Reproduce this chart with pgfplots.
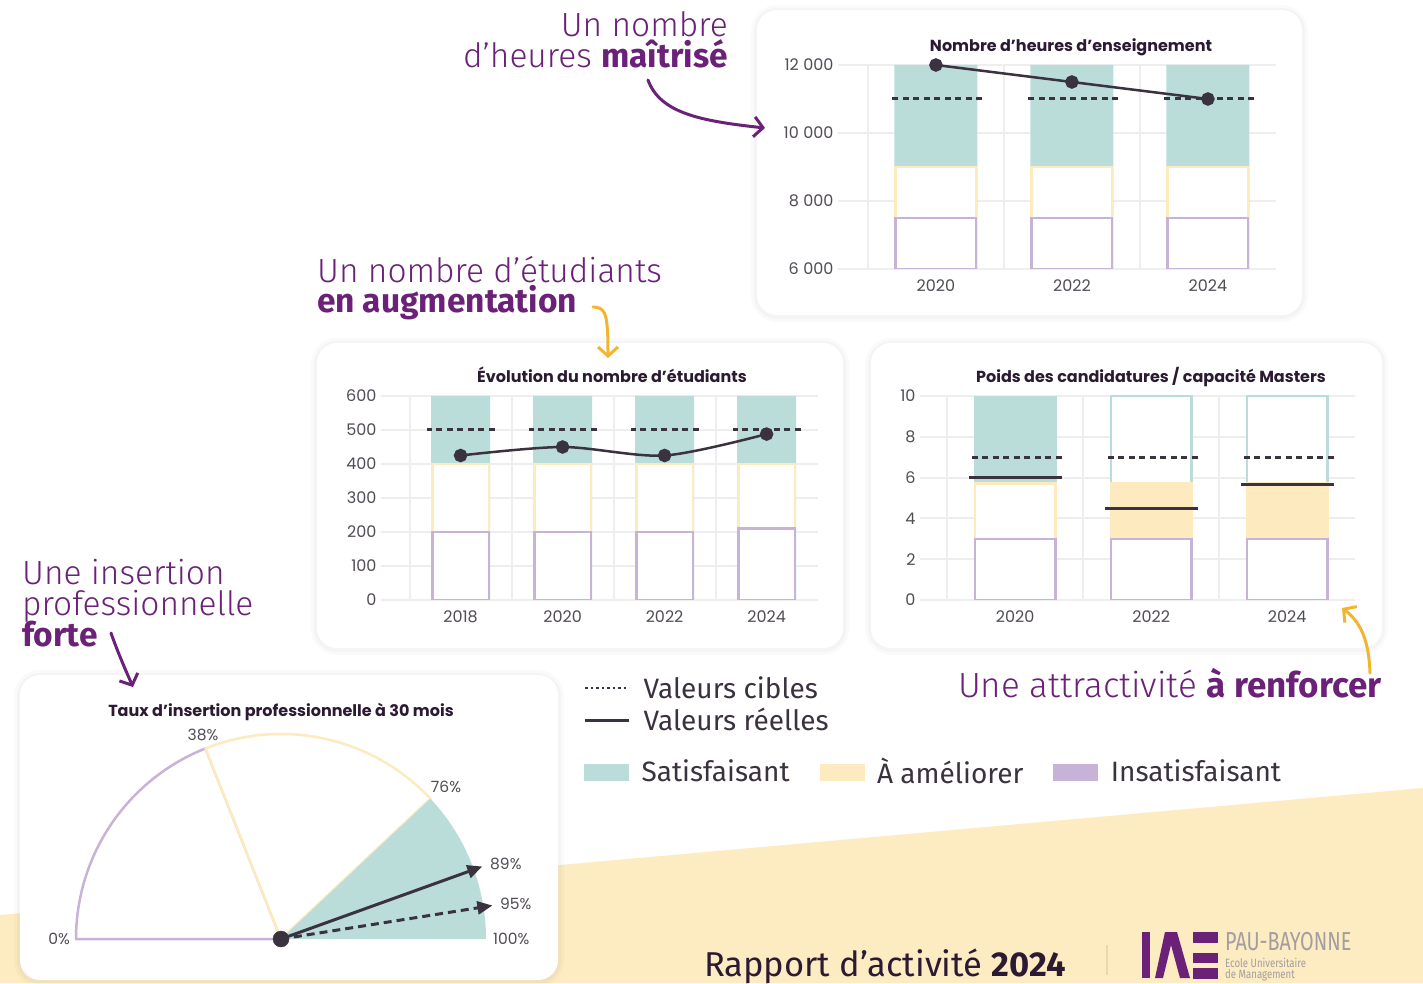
\documentclass[border=0pt]{standalone}
\usepackage{fontspec}
\usepackage{pgfplots}
\pgfplotsset{compat=1.18}
\usetikzlibrary{arrows.meta}
\newfontfamily\pop{Poppins}
\newfontfamily\fira{Fira Sans}[UprightFont={* Light}, BoldFont={* Bold}]
\newfontfamily\firar{Fira Sans}
\newcommand\fs[1]{\fontsize{#1}{#1}\selectfont}
\newcommand\ann[1]{\fira\fontsize{33.5}{#1}\selectfont\lineskiplimit=-60pt\lineskip=0pt}
\definecolor{tealC}{HTML}{BADDD9}
\definecolor{yelC}{HTML}{FDEBBF}
\definecolor{purC}{HTML}{C8B3D8}
\definecolor{darkC}{HTML}{3B3240}
\definecolor{titleC}{HTML}{2C1A33}
\definecolor{tickC}{HTML}{524C55}
\definecolor{gridC}{HTML}{EFEEEF}
\definecolor{annC}{HTML}{6A2177}
\definecolor{arrY}{HTML}{F3B52F}
\definecolor{bgY}{HTML}{FDEBC1}
\definecolor{logoG}{HTML}{A29DA1}
\definecolor{sepC}{HTML}{EAD7AE}

\pgfplotsset{
 barchart/.style={
   scale only axis, clip mode=individual,
   axis line style={draw=none},
   major tick length=0pt, minor tick length=0pt,
   ymajorgrids, xminorgrids,
   scaled y ticks=false,
   grid style={draw=gridC, line width=2pt},
   minor grid style={draw=gridC, line width=2pt},
   tick label style={font=\pop\fs{16}, text=tickC},
   /pgf/number format/assume math mode=true,
   xticklabel style={yshift=-7pt},
   yticklabel style={xshift=-1pt},
 },
 fbar/.style={ybar, bar shift=0pt, bar width=#1, draw=none},
 obar/.style={ybar, bar shift=0pt, bar width=#1, line width=2.5pt},
 target/.style={only marks, mark=-, mark size=#1, mark options={draw=darkC, line width=3pt, dash pattern=on 6pt off 4.5pt}},
 real/.style={only marks, mark=-, mark size=#1, mark options={draw=darkC, line width=3pt, solid}},
}
\newcommand\card[4]{%
 \fill[black, opacity=0.02, rounded corners=26pt] (#1-6,#2-7) rectangle (#3+6,#4+5);
 \fill[black, opacity=0.025, rounded corners=23pt] (#1-3,#2-4) rectangle (#3+3,#4+2);
 \fill[white, rounded corners=20pt] (#1,#2) rectangle (#3,#4);}

\begin{document}
\begin{tikzpicture}[x=1pt,y=1pt]
\useasboundingbox (0,0) rectangle (1423,983);
\fill[white] (0,0) rectangle (1423,983);
\fill[bgY] (0,0) -- (1423,0) -- (1423,195) -- (0,68) -- cycle;

% cards
\card{757}{668}{1302}{973}
\card{317}{335}{843}{640}
\card{871}{335}{1382}{640}
\card{20}{3}{558}{308}

% annotations (anchor at the baseline of the last line)
\begin{scope}[every node/.style={text=annC, inner sep=0pt}]
\node[anchor=base east, align=right, font=\ann{31}] at (728,915) {Un nombre\\d’heures \textbf{maîtrisé}};
\node[anchor=base west, align=left, font=\ann{30.5}] at (317,670) {Un nombre d’étudiants\\\textbf{en augmentation}};
\node[anchor=base west, align=left, font=\ann{31}] at (22,336) {Une insertion\\professionnelle\\\textbf{forte}};
\node[anchor=base east, font=\ann{35}\fs{35}] at (1382,286) {Une attractivité \textbf{à renforcer}};
\end{scope}

% decorative arrows
\draw[annC, line width=3pt, line cap=round, -{Straight Barb[length=9pt,width=20pt]}] (648,903) .. controls (660,870) and (700,862) .. (765,855);
\draw[annC, line width=3pt, line cap=round, -{Straight Barb[length=9pt,width=20pt]}] (111,350) .. controls (118,330) and (126,312) .. (133,296);
\draw[arrY, line width=3pt, line cap=round, -{Straight Barb[length=9pt,width=20pt]}] (593,676) .. controls (606,676) and (608,668) .. (608,625);
\draw[arrY, line width=3pt, line cap=round, -{Straight Barb[length=9pt,width=20pt]}] (1370,310) .. controls (1369,340) and (1362,360) .. (1342,375);

% chart titles
\begin{scope}[every node/.style={font=\pop\bfseries\fs{16}, text=titleC, inner sep=0pt, anchor=base}]
\node at (1071,931) {Nombre d’heures d’enseignement};
\node at (612,600) {Évolution du nombre d’étudiants};
\node at (1151,600) {Poids des candidatures / capacité Masters};
\node at (281,267) {Taux d’insertion professionnelle à 30 mois};
\end{scope}

% ---- Chart 1: heures
\begin{axis}[barchart, at={(838pt,714pt)}, anchor=south west, width=437.9pt, height=204pt,
  xmin=-0.72, xmax=2.5, ymin=6000, ymax=12000,
  xtick={0,1,2}, xticklabels={2020,2022,2024}, minor xtick={-0.5,0.5,1.5},
  ytick={6000,8000,10000,12000}, yticklabels={6\;000,8\;000,10\;000,12\;000}]
\addplot[fbar=83pt, fill=tealC] coordinates {(0,12000)(1,12000)(2,12000)};
\addplot[obar=80.5pt, fill=white, draw=yelC] coordinates {(0,9000)(1,9000)(2,9000)};
\addplot[obar=80.5pt, fill=white, draw=purC] coordinates {(0,7500)(1,7500)(2,7500)};
\addplot[target=46.5pt] coordinates {(0,11000)(1,11000)(2,11000)};
\addplot[draw=darkC, line width=2.5pt, mark=*, mark size=5.5pt, mark options={fill=darkC, draw=darkC, solid}] coordinates {(0,12000)(1,11500)(2,11000)};
\end{axis}

% ---- Chart 2: etudiants
\begin{axis}[barchart, at={(381pt,383pt)}, anchor=south west, width=436.6pt, height=204pt,
  xmin=-0.78, xmax=3.5, ymin=0, ymax=600,
  xtick={0,1,2,3}, xticklabels={2018,2020,2022,2024}, minor xtick={-0.5,0.5,1.5,2.5},
  ytick={0,100,200,300,400,500,600}]
\addplot[fbar=59pt, fill=tealC] coordinates {(0,600)(1,600)(2,600)(3,600)};
\addplot[obar=56.5pt, fill=white, draw=yelC] coordinates {(0,400)(1,400)(2,400)(3,400)};
\addplot[obar=56.5pt, fill=white, draw=purC] coordinates {(0,200)(1,200)(2,200)(3,210)};
\addplot[target=34pt] coordinates {(0,500)(1,500)(2,500)(3,500)};
\addplot[smooth, tension=0.5, draw=darkC, line width=2.5pt, mark=*, mark size=5.5pt, mark options={fill=darkC, draw=darkC, solid}] coordinates {(0,425)(1,450)(2,425)(3,488)};
\end{axis}

% ---- Chart 3: masters
\begin{axis}[barchart, at={(920pt,383pt)}, anchor=south west, width=435.2pt, height=204pt,
  xmin=-0.7, xmax=2.5, ymin=0, ymax=10,
  xtick={0,1,2}, xticklabels={2020,2022,2024}, minor xtick={-0.5,0.5,1.5},
  ytick={0,2,4,6,8,10}]
\addplot[fbar=83pt, fill=tealC] coordinates {(0,10)};
\addplot[obar=80.5pt, fill=white, draw=tealC] coordinates {(1,10)(2,10)};
\addplot[obar=80.5pt, fill=white, draw=yelC] coordinates {(0,5.7)};
\addplot[obar=80.5pt, fill=yelC, draw=yelC] coordinates {(1,5.7)(2,5.7)};
\addplot[obar=80.5pt, fill=white, draw=purC] coordinates {(0,3)(1,3)(2,3)};
\addplot[target=46.5pt] coordinates {(0,7)(1,7)(2,7)};
\addplot[real=46.5pt] coordinates {(0,6)(1,4.5)(2,5.65)};
\end{axis}

% ---- Gauge
\begin{axis}[at={(76pt,44pt)}, anchor=south west, x=205pt, y=205pt,
  xmin=-1, xmax=1.1, ymin=0, ymax=1.05, hide axis, clip=false]
\draw[draw=purC, line width=2.5pt, fill=white, line join=round] (axis cs:0,0) -- (axis cs:-1,0) arc[start angle=180, end angle={180-1.8*38}, radius=205pt] -- cycle;
\draw[draw=yelC, line width=2.5pt, fill=white, line join=round] (axis cs:0,0) -- ++({180-1.8*38}:205pt) arc[start angle={180-1.8*38}, end angle={180-1.8*76}, radius=205pt] -- cycle;
\fill[tealC] (axis cs:0,0) -- ++({180-1.8*76}:205pt) arc[start angle={180-1.8*76}, end angle=0, radius=205pt] -- cycle;
\addplot[draw=darkC, line width=3pt, -{Triangle[length=15pt,width=13pt]}] coordinates {(0,0)(0.9823,0.3536)};
\addplot[draw=darkC, line width=3pt, dash pattern=on 8pt off 5pt, -{Triangle[length=15pt,width=13pt]}] coordinates {(0,0)(1.0311,0.1633)};
\addplot[only marks, mark=*, mark size=8pt, mark options={fill=darkC, draw=darkC}] coordinates {(0,0)};
\end{axis}
\begin{scope}[every node/.style={font=\pop\fs{15.5}, text=tickC, inner sep=0pt}]
\node[anchor=east] at (70,44) {0\%};
\node at (203,248) {38\%};
\node at (446,196) {76\%};
\node[anchor=west] at (490,119) {89\%};
\node[anchor=west] at (500,79) {95\%};
\node[anchor=west] at (493,44) {100\%};
\end{scope}

% ---- Legends
\begin{axis}[at={(584pt,307pt)}, anchor=north west, hide axis, scale only axis, width=1pt, height=1pt,
  xmin=0, xmax=1, ymin=0, ymax=1,
  legend style={at={(0,1)}, anchor=north west, draw=none, fill=none, inner sep=0pt,
    font=\firar\fs{28}, text=darkC, row sep=9pt, nodes={inner sep=0pt},
    /tikz/every odd column/.style={column sep=13pt}},
  legend cell align=left]
\addlegendimage{legend image code/.code={\draw[darkC, line width=2pt, dash pattern=on 2.5pt off 3pt] (0pt,0pt) -- (44pt,0pt);}}
\addlegendentry{Valeurs cibles}
\addlegendimage{legend image code/.code={\draw[darkC, line width=2.5pt] (0pt,0pt) -- (44pt,0pt);}}
\addlegendentry{Valeurs réelles}
\end{axis}
\begin{axis}[at={(584pt,225pt)}, anchor=north west, hide axis, scale only axis, width=1pt, height=1pt,
  xmin=0, xmax=1, ymin=0, ymax=1,
  legend columns=3,
  legend style={at={(0,1)}, anchor=north west, draw=none, fill=none, inner sep=0pt,
    font=\firar\fs{28}, text=darkC, nodes={inner sep=0pt},
    /tikz/every odd column/.style={column sep=13pt},
    /tikz/every even column/.style={column sep=30pt}},
  legend cell align=left]
\addlegendimage{legend image code/.code={\fill[tealC] (0pt,-8pt) rectangle (44pt,8pt);}}
\addlegendentry{Satisfaisant}
\addlegendimage{legend image code/.code={\fill[yelC] (0pt,-8pt) rectangle (44pt,8pt);}}
\addlegendentry{À améliorer}
\addlegendimage{legend image code/.code={\fill[purC] (0pt,-8pt) rectangle (44pt,8pt);}}
\addlegendentry{Insatisfaisant}
\end{axis}

% ---- Footer
\node[anchor=base west, font=\firar\fs{34.5}, text=titleC, inner sep=0pt] at (704,7) {Rapport d’activité \textbf{2024}};
\draw[sepC, line width=1.5pt] (1107,8) -- (1107,38);
\fill[annC] (1142,5) rectangle (1150,51);
\fill[annC] (1155,5) -- (1165,51) -- (1177,51) -- (1190,5) -- (1180,5) -- (1171,38) -- (1163,5) -- cycle;
\fill[annC] (1193,40) rectangle (1218,51);
\fill[annC] (1193,20) rectangle (1218,30);
\fill[annC] (1193,4) rectangle (1218,15);
\node[anchor=base west, inner sep=0pt, text=logoG] at (1225,33) {\scalebox{0.76}[1]{\firar\fs{26}PAU-BAYONNE}};
\node[anchor=base west, inner sep=0pt, text=logoG] at (1225,16) {\scalebox{0.8}[1]{\firar\fs{12}Ecole Universitaire}};
\node[anchor=base west, inner sep=0pt, text=logoG] at (1225,5) {\scalebox{0.8}[1]{\firar\fs{12}de Management}};
\end{tikzpicture}
\end{document}
